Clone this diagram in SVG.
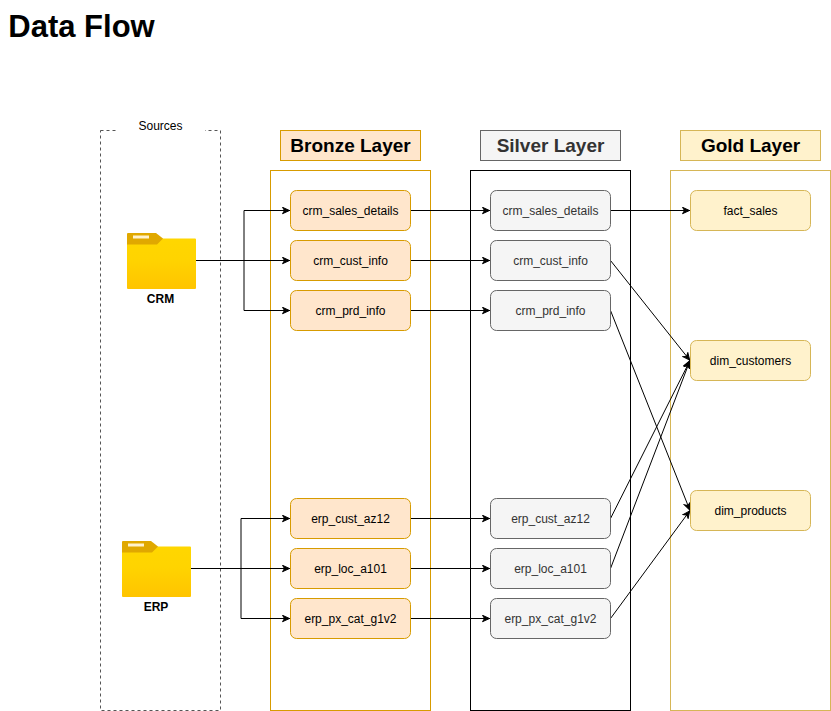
<svg xmlns="http://www.w3.org/2000/svg" width="831" height="711" viewBox="0 0 831 711">
<style>
text{font-family:"Liberation Sans",Arial,sans-serif;text-anchor:middle;fill:#000}
.n{font-size:12px}
.h{font-size:19px;font-weight:bold}
.lb{font-size:12px;font-weight:bold}
.br{fill:#ffe6cc;stroke:#d79b00}
.si{fill:#f5f5f5;stroke:#666}
.go{fill:#fff2cc;stroke:#d6b656}
.si+text{fill:#333}
.c{fill:none;stroke:#000;stroke-width:1}
</style>
<defs>
<marker id="a" viewBox="0 0 8 8" refX="8" refY="4" markerWidth="8" markerHeight="8" markerUnits="userSpaceOnUse" orient="auto"><path d="M0.500 0.800L7.500 4L0.500 7.200L2.500 4Z" fill="#000" stroke="#000" stroke-width="1"/></marker>
<linearGradient id="fg" x1="0" y1="0" x2="0" y2="1"><stop offset="0" stop-color="#ffd700"/><stop offset="0.45" stop-color="#ffd400"/><stop offset="1" stop-color="#ffc400"/></linearGradient>
<g id="folder"><path d="M0 2a1 1 0 0 1 1-1H28L35 5.500H68a1 1 0 0 1 1 1V55a1 1 0 0 1-1 1H1a1 1 0 0 1-1-1Z" fill="url(#fg)"/><path d="M0 1a1 1 0 0 1 1-1H29L36 5.500 30 11.500H0Z" fill="#e0a800"/><rect x="6" y="2.500" width="16" height="3" fill="#fff2cc"/></g>
</defs>
<text id="title" x="81.500" y="37" style="font-size:31px;font-weight:bold">Data Flow</text>
<g id="sources"><rect x="100.500" y="130.500" width="120" height="580" fill="none" stroke="#555" stroke-dasharray="3 3"/><rect x="116" y="118" width="89" height="16" fill="#fff"/><text class="n" x="160.500" y="130" fill="#333">Sources</text></g>
<g id="bronze-layer"><rect class="br" x="280.500" y="130.500" width="140" height="30"/><text class="h" x="350.500" y="152">Bronze Layer</text><rect x="270.500" y="170.500" width="160" height="540" fill="none" stroke="#d79b00"/></g>
<g id="silver-layer"><rect class="si" x="480.500" y="130.500" width="140" height="30"/><text class="h" x="550.500" y="152">Silver Layer</text><rect x="470.500" y="170.500" width="160" height="540" fill="none" stroke="#000"/></g>
<g id="gold-layer"><rect class="go" x="680.500" y="130.500" width="140" height="30"/><text class="h" x="750.500" y="152">Gold Layer</text><rect x="670.500" y="170.500" width="160" height="540" fill="none" stroke="#d6b656"/></g>
<g id="crm"><use href="#folder" x="127" y="233"/><text class="lb" x="160.500" y="303">CRM</text></g>
<g id="erp"><use href="#folder" x="122" y="541"/><text class="lb" x="156" y="611">ERP</text></g>
<g id="connectors">
<path class="c" marker-end="url(#a)" d="M196 260.500H244V210.500H290"/>
<path class="c" marker-end="url(#a)" d="M196 260.500H290"/>
<path class="c" marker-end="url(#a)" d="M196 260.500H244V310.500H290"/>
<path class="c" marker-end="url(#a)" d="M191 568.500H241V518.500H290"/>
<path class="c" marker-end="url(#a)" d="M191 568.500H290"/>
<path class="c" marker-end="url(#a)" d="M191 568.500H241V618.500H290"/>
<path class="c" marker-end="url(#a)" d="M410.500 210.500H490"/>
<path class="c" marker-end="url(#a)" d="M410.500 260.500H490"/>
<path class="c" marker-end="url(#a)" d="M410.500 310.500H490"/>
<path class="c" marker-end="url(#a)" d="M410.500 518.500H490"/>
<path class="c" marker-end="url(#a)" d="M410.500 568.500H490"/>
<path class="c" marker-end="url(#a)" d="M410.500 618.500H490"/>
<path class="c" marker-end="url(#a)" d="M610.500 210.500H690"/>
<path class="c" marker-end="url(#a)" d="M610.500 260.500L690 360.500"/>
<path class="c" marker-end="url(#a)" d="M610.500 310.500L690 510.500"/>
<path class="c" marker-end="url(#a)" d="M610.500 518.500L690 360.500"/>
<path class="c" marker-end="url(#a)" d="M610.500 568.500L690 360.500"/>
<path class="c" marker-end="url(#a)" d="M610.500 618.500L690 510.500"/>
</g>
<g id="b1"><rect class="br" x="290.500" y="190.500" width="120" height="40" rx="6"/><text class="n" x="350.500" y="215">crm_sales_details</text></g>
<g id="b2"><rect class="br" x="290.500" y="240.500" width="120" height="40" rx="6"/><text class="n" x="350.500" y="265">crm_cust_info</text></g>
<g id="b3"><rect class="br" x="290.500" y="290.500" width="120" height="40" rx="6"/><text class="n" x="350.500" y="315">crm_prd_info</text></g>
<g id="b4"><rect class="br" x="290.500" y="498.500" width="120" height="40" rx="6"/><text class="n" x="350.500" y="523">erp_cust_az12</text></g>
<g id="b5"><rect class="br" x="290.500" y="548.500" width="120" height="40" rx="6"/><text class="n" x="350.500" y="573">erp_loc_a101</text></g>
<g id="b6"><rect class="br" x="290.500" y="598.500" width="120" height="40" rx="6"/><text class="n" x="350.500" y="623">erp_px_cat_g1v2</text></g>
<g id="s1"><rect class="si" x="490.500" y="190.500" width="120" height="40" rx="6"/><text class="n" x="550.500" y="215">crm_sales_details</text></g>
<g id="s2"><rect class="si" x="490.500" y="240.500" width="120" height="40" rx="6"/><text class="n" x="550.500" y="265">crm_cust_info</text></g>
<g id="s3"><rect class="si" x="490.500" y="290.500" width="120" height="40" rx="6"/><text class="n" x="550.500" y="315">crm_prd_info</text></g>
<g id="s4"><rect class="si" x="490.500" y="498.500" width="120" height="40" rx="6"/><text class="n" x="550.500" y="523">erp_cust_az12</text></g>
<g id="s5"><rect class="si" x="490.500" y="548.500" width="120" height="40" rx="6"/><text class="n" x="550.500" y="573">erp_loc_a101</text></g>
<g id="s6"><rect class="si" x="490.500" y="598.500" width="120" height="40" rx="6"/><text class="n" x="550.500" y="623">erp_px_cat_g1v2</text></g>
<g id="g1"><rect class="go" x="690.500" y="190.500" width="120" height="40" rx="6"/><text class="n" x="750.500" y="215">fact_sales</text></g>
<g id="g2"><rect class="go" x="690.500" y="340.500" width="120" height="40" rx="6"/><text class="n" x="750.500" y="365">dim_customers</text></g>
<g id="g3"><rect class="go" x="690.500" y="490.500" width="120" height="40" rx="6"/><text class="n" x="750.500" y="515">dim_products</text></g>
</svg>
